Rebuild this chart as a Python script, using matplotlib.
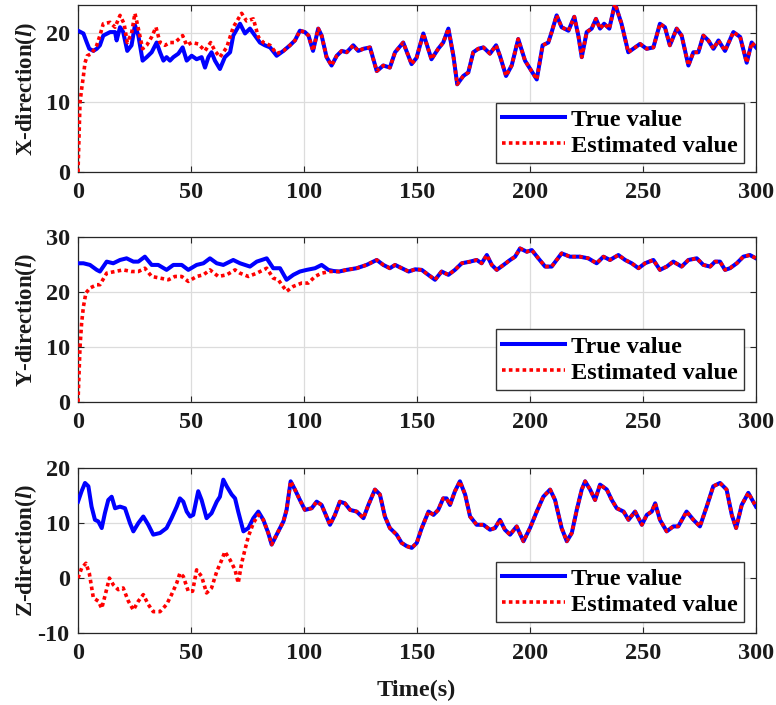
import numpy as np
import matplotlib
matplotlib.use("Agg")
import matplotlib.pyplot as plt

plt.rcParams["font.family"] = ["Liberation Serif", "DejaVu Serif"]
plt.rcParams["font.weight"] = "bold"
plt.rcParams["mathtext.fontset"] = "custom"
plt.rcParams["mathtext.rm"] = "Liberation Serif:bold"
plt.rcParams["mathtext.it"] = "Liberation Serif:italic:bold"
plt.rcParams["axes.unicode_minus"] = False

# ---------------- X direction ----------------
x_true_t = [0, 2.4, 3.9, 5, 6.8, 8.3, 9.7, 11.2, 14.2, 16.4, 17.1, 18.6, 20, 21.8, 23.7, 25.2,
            26.7, 28.6, 30.4, 32.6, 34.8, 36.3, 37.8, 39.2, 40.7, 42.2, 44.4, 46.3, 48.1, 50.3,
            52.5, 54.7, 56.2, 57.7, 59.1, 60.6, 62.8, 65, 67.3, 68.7, 71.7, 73.9, 76.1, 78.3,
            80.5, 82.7, 85, 87.9, 90.9, 93.8, 96, 98.2, 100.4, 102, 104, 106.3, 107.8, 110,
            112.2, 114.5, 116.7, 118.9, 121.8, 124, 126.3, 129.2, 132.2, 135.1, 138, 140.3,
            143.9, 147.6, 149.8, 152.8, 156.4, 159.4, 161.6, 163.9, 166.1, 167.8, 170.5, 172.7,
            174.9, 177.1, 179.4, 182.3, 185, 186.7, 189.4, 191.9, 194.8, 197.8, 200.7, 203,
            205.6, 208.1, 209.6, 211.8, 214, 217, 219.6, 221.4, 222.9, 225.1, 227.3, 229.2,
            231, 232.8, 235.1, 237.6, 240.5, 243.5, 246.5, 248.7, 251.6, 254.6, 257.5, 259.7,
            261.9, 264.9, 267.1, 270.1, 272.3, 274.5, 276.7, 278.9, 281.2, 283.4, 286.3, 290,
            293, 295.9, 298.1, 300]
x_true_v = [20.3, 19.9, 18.6, 17.7, 17.4, 17.7, 18.2, 19.6, 20.1, 20.1, 18.9, 20.8, 20.1, 17.4,
            18.2, 21.1, 19.6, 16.0, 16.5, 17.2, 18.6, 17.2, 16.0, 16.5, 16.0, 16.5, 17.0, 17.9,
            16.0, 16.7, 16.2, 16.5, 15.0, 16.5, 17.2, 16.0, 14.8, 16.5, 17.2, 19.6, 21.3, 19.9,
            20.6, 19.6, 18.6, 18.2, 17.9, 16.7, 17.4, 18.2, 18.9, 20.3, 20.1, 19.6, 17.4, 20.6,
            19.6, 16.5, 15.3, 16.7, 17.4, 17.2, 18.2, 17.4, 17.7, 17.9, 14.5, 15.3, 15.0, 17.2,
            18.6, 15.5, 16.4, 19.9, 16.2, 17.7, 18.6, 20.6, 16.7, 12.6, 13.8, 14.3, 17.2, 17.7,
            17.9, 17.0, 18.2, 16.7, 13.8, 15.3, 19.1, 16.0, 14.5, 13.3, 18.2, 18.6, 20.1, 22.5,
            20.8, 20.3, 22.3, 19.6, 16.5, 20.1, 20.6, 22.0, 20.6, 21.3, 20.6, 24.2, 21.3, 17.2,
            17.9, 18.4, 17.7, 17.9, 21.3, 20.8, 18.2, 20.6, 19.6, 15.3, 17.2, 17.2, 19.6, 18.9,
            17.7, 18.9, 17.4, 20.1, 19.4, 15.7, 18.6, 17.9]
# estimate before it locks onto the true value
x_est_t = [0, 0.9, 1.6, 2.4, 3.1, 4.1, 6, 8.3, 9.7, 11.2, 14.2, 16.4, 18.6, 20.4, 21.8, 23.7,
           25.2, 26.7, 28.6, 30.4, 32.6, 34.5, 36.3, 38.5, 40.7, 42.9, 46.3, 48.1, 50.3, 53.2,
           56.2, 58.7, 60.6, 62.8, 65.8, 68.7, 72.4, 74.6, 77.6, 79.8, 82, 85, 87.9]
x_est_v = [0, 10, 11.9, 13.8, 15.7, 16.7, 17.0, 18.2, 19.6, 21.3, 21.5, 20.8, 22.5, 21.3, 18.6,
           19.9, 22.8, 20.6, 17.7, 18.2, 19.4, 20.8, 18.6, 18.2, 18.6, 18.6, 19.6, 18.2, 18.6,
           18.4, 17.4, 18.6, 17.4, 16.5, 17.9, 20.8, 22.8, 21.7, 22.0, 19.4, 18.6, 18.2, 17.0]
x_lock = 90.0

# ---------------- Y direction ----------------
y_true_t = [0, 2.4, 5.3, 8.3, 9.7, 12.7, 15.6, 18.6, 21.5, 24.5, 26.7, 29.6, 32.6, 35.5, 39.2,
            42.2, 45.9, 48.8, 52.5, 55.5, 58.4, 61.4, 64.3, 68.7, 71.7, 76.1, 79.1, 83.5, 86.4,
            89.4, 92.3, 95.3, 98.2, 101.2, 104.9, 107.8, 110.8, 113, 115.5, 118.9, 123.3, 127.7,
            132.2, 135.1, 138, 140.3, 143.3, 146.3, 149.2, 152.1, 155, 158, 160.9, 163.9,
            166.8, 169.8, 173.5, 176.4, 178.6, 180.9, 183.1, 185.3, 188.3, 191.2, 193.4, 195.6,
            198.6, 200.8, 203.7, 206.7, 209.6, 211.8, 214, 217.7, 222.1, 225.8, 229.5, 232.5,
            235.4, 239.1, 242.1, 245, 248, 250.9, 254.6, 257.5, 260.5, 263.4, 267.1, 270.1,
            273.8, 276.7, 279.7, 281.9, 284.1, 286.3, 288.5, 291.5, 294.4, 297.3, 300]
y_true_v = [25.2, 25.2, 24.9, 24.0, 23.7, 25.5, 25.2, 25.8, 26.1, 25.5, 25.5, 26.4, 24.9, 24.9,
            24.0, 24.9, 24.9, 24.0, 24.9, 25.2, 26.1, 25.2, 24.9, 25.8, 25.2, 24.6, 25.5, 26.1,
            24.3, 24.3, 22.2, 23.1, 23.7, 24.0, 24.3, 24.9, 24.0, 23.8, 23.7, 24.0, 24.3, 24.9,
            25.8, 24.9, 24.3, 24.9, 24.3, 23.7, 24.1, 24.0, 23.1, 22.2, 23.7, 23.1, 24.0, 25.2,
            25.5, 25.8, 25.2, 26.7, 24.9, 24.0, 24.9, 25.8, 26.4, 27.9, 27.3, 27.6, 26.1, 24.6,
            24.6, 25.8, 27.0, 26.4, 26.4, 26.1, 25.2, 26.4, 25.8, 26.7, 25.8, 25.2, 24.3, 25.2,
            25.8, 24.0, 24.6, 25.5, 24.6, 25.8, 26.1, 24.9, 24.6, 25.5, 25.5, 24.0, 24.3, 25.2,
            26.4, 26.7, 26.1]
y_est_t = [0, 0.9, 1.6, 2.4, 3.5, 5.3, 8.3, 9.7, 12.7, 16.4, 20, 23.7, 26.7, 29.6, 32.6, 36.3,
           40, 42.9, 45.9, 48.8, 52.5, 55.5, 58.4, 62.1, 65.8, 69.5, 71.7, 75.4, 79.1, 83.5,
           86.4, 88.6, 92.3, 95.3, 99, 101.9, 104.9, 107.8, 111.5, 114.5]
y_est_v = [0, 10, 14.3, 17.3, 19.8, 20.7, 21.3, 21.3, 23.4, 23.7, 24.0, 23.7, 23.7, 24.3, 22.8,
           22.5, 22.2, 22.8, 22.8, 21.9, 22.8, 23.1, 24.0, 22.8, 23.1, 24.0, 23.4, 22.8, 23.4,
           24.3, 22.5, 22.2, 20.1, 21.0, 21.6, 21.6, 22.8, 23.4, 23.7, 23.7]
y_lock = 115.0

# ---------------- Z direction ----------------
z_true_t = [0, 1.6, 3.1, 4.6, 6, 7.5, 9, 10.5, 11.9, 13.4, 14.9, 16.4, 18.6, 20.8, 23, 24.5,
            26.7, 28.9, 31.1, 33.3, 36.3, 39.2, 41.4, 43.7, 45.1, 46.6, 48.1, 49.6, 51, 53.2,
            54.7, 56.9, 59.1, 61.4, 62.8, 64.3, 65.8, 68, 69.5, 70.9, 73.2, 75.4, 77.6, 79.8,
            82, 84.2, 85.7, 87.9, 90.9, 92.3, 94.1, 96, 98.2, 100.4, 103.4, 105.6, 107.8, 111.5,
            113.7, 115.9, 118.1, 120.4, 123.3, 126.3, 128.5, 131.4, 133.6, 135.8, 138, 141,
            143.2, 145.5, 147.7, 149.9, 152.1, 155.1, 157.3, 159.4, 161.6, 163.1, 164.6, 166.8,
            169, 171.3, 173.5, 176.4, 179.4, 182.3, 184.5, 186.7, 188.9, 191.2, 194.1, 197.1,
            200, 203, 205.9, 208.9, 211.1, 214, 216.3, 218.5, 220.7, 222.9, 224.4, 226.6, 228.8,
            231, 234, 236.2, 238.4, 241.4, 243.6, 246.5, 249.5, 251.7, 253.9, 255.4, 257.5,
            260.5, 263.4, 265.6, 269.3, 272.3, 275.2, 278.2, 281.1, 284.1, 287, 289.3, 291.2,
            293.7, 296.6, 300]
z_true_v = [13.9, 15.8, 17.3, 16.7, 13.0, 10.6, 10.3, 9.1, 11.8, 14.2, 14.8, 12.7, 13.0, 12.7,
            10.0, 8.5, 10.0, 11.2, 9.7, 7.9, 8.2, 9.1, 10.9, 13.0, 14.5, 13.9, 12.1, 11.2, 11.5,
            15.8, 14.2, 10.9, 11.8, 13.9, 14.8, 17.9, 16.7, 15.2, 14.5, 12.1, 8.5, 9.1, 10.9,
            12.1, 10.6, 8.2, 6.1, 7.9, 10.3, 12.4, 17.6, 16.1, 14.2, 12.4, 12.7, 13.9, 13.3, 9.7,
            11.5, 13.9, 13.6, 12.4, 12.1, 10.9, 13.3, 16.1, 15.2, 11.2, 9.1, 7.9, 6.4, 5.8, 5.5,
            6.4, 9.1, 12.1, 11.5, 12.4, 14.5, 14.5, 13.3, 15.8, 17.6, 15.2, 11.2, 9.7, 9.7, 8.8,
            9.1, 10.6, 8.8, 7.9, 9.4, 6.7, 9.1, 12.1, 14.8, 16.1, 14.2, 9.1, 6.7, 8.2, 12.4, 16.1,
            17.6, 16.1, 14.2, 17.0, 16.1, 14.2, 12.7, 12.1, 10.6, 12.1, 9.7, 11.5, 12.1, 13.6,
            10.6, 8.5, 9.4, 9.4, 12.1, 10.6, 9.4, 13.0, 16.7, 17.3, 16.1, 11.5, 9.1, 13.3, 15.5,
            13.0]
z_est_t = [0, 1.6, 3.5, 5, 6.8, 9, 10.5, 11.9, 13.9, 15.6, 17.8, 20, 22.3, 24.5, 26.7, 28.9,
           31.1, 33.3, 36.3, 39.2, 41.4, 43.7, 45.1, 46.6, 48.8, 50.7, 52.5, 54.7, 56.9, 59.1,
           61.4, 63.6, 65, 67.3, 69.5, 70.9, 72.4, 73.9, 75.4, 77.6, 79.8]
z_est_v = [0, 1.8, 2.7, 0.9, -3.6, -4.2, -5.5, -3.3, 0, -1.2, -2.1, -1.8, -4.2, -5.8, -4.2,
           -3.0, -4.8, -6.1, -6.1, -4.8, -3.0, -0.9, 0.9, 0.3, -2.4, -2.4, 1.5, 0.3, -2.7, -1.8,
           1.2, 3.3, 4.8, 3.3, 1.5, -0.9, 2.7, 5.2, 7.6, 10.0, 11.5]
z_lock = 80.0

panels = [
    ("X-direction($\\mathit{l}$)", x_true_t, x_true_v, x_est_t, x_est_v, x_lock, (0, 24), [0, 10, 20]),
    ("Y-direction($\\mathit{l}$)", y_true_t, y_true_v, y_est_t, y_est_v, y_lock, (0, 30), [0, 10, 20, 30]),
    ("Z-direction($\\mathit{l}$)", z_true_t, z_true_v, z_est_t, z_est_v, z_lock, (-10, 20), [-10, 0, 10, 20]),
]

fig = plt.figure(figsize=(7.76, 7.05), dpi=100)
boxes = [(0.1005, 0.756, 0.8737, 0.237),
         (0.1005, 0.430, 0.8737, 0.234),
         (0.1005, 0.102, 0.8737, 0.234)]
legend_y = [0.054, 0.073, 0.067]

fs = 17.5
for (label, tt, tv, et, ev, lock, ylim, yt), box, ly in zip(panels, boxes, legend_y):
    ax = fig.add_axes(box)
    tt = np.asarray(tt, float)
    tv = np.asarray(tv, float)
    # estimated trajectory: transient part, then tracking the true value
    after = tt > lock
    full_et = np.concatenate([np.asarray(et, float), tt[after]])
    full_ev = np.concatenate([np.asarray(ev, float), tv[after]])

    ax.plot(tt, tv, color=(0, 0, 1), lw=2.9, solid_joinstyle="round", label="True value", zorder=3)
    ax.plot(full_et, full_ev, color=(1, 0, 0), lw=2.6, linestyle=(0, (1.0, 0.9)),
            label="Estimated value", zorder=4)

    ax.set_xlim(0, 300)
    ax.set_ylim(*ylim)
    ax.set_xticks([0, 50, 100, 150, 200, 250, 300])
    ax.set_yticks(yt)
    ax.grid(True, color="#dcdcdc", lw=0.9)
    ax.set_axisbelow(True)
    ax.tick_params(direction="in", top=True, right=True, length=4, width=0.8,
                   labelsize=fs, colors="#262626", labelcolor="#1a1a1a")
    ax.tick_params(axis="x", pad=7)
    ax.tick_params(axis="y", pad=6)
    for lab in ax.get_xticklabels() + ax.get_yticklabels():
        lab.set_fontweight("bold")
    for sp in ax.spines.values():
        sp.set_color("#262626")
        sp.set_linewidth(0.9)
    ax.set_ylabel(label, fontsize=16.5, fontweight="bold", color="#1a1a1a")
    ax.yaxis.set_label_coords(-0.058, 0.5)

    leg = ax.legend(loc="lower right", bbox_to_anchor=(0.982, ly), borderaxespad=0,
                    fancybox=False, edgecolor="#333333", framealpha=1,
                    prop={"family": "Liberation Serif", "weight": "bold", "size": fs},
                    handlelength=2.6, handletextpad=0.25, borderpad=0.25, labelspacing=0.17)
    leg.get_frame().set_linewidth(1.0)

fig.text(0.537, 0.021, "Time(s)", ha="center", va="center", fontsize=fs,
         fontweight="bold", color="#1a1a1a")

fig.savefig("out.png", dpi=100)
